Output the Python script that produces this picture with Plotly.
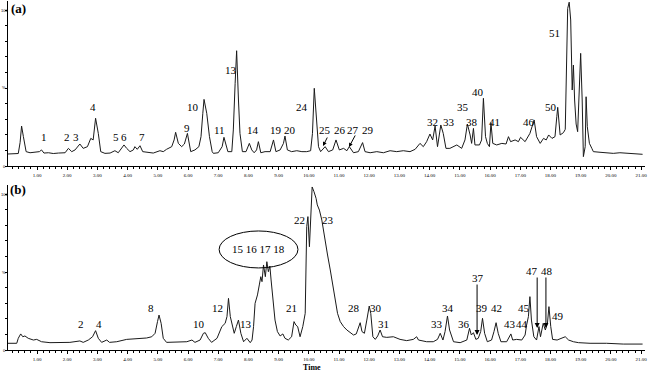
import plotly.graph_objects as go

# ---------------- Panel (a) chromatogram ----------------
time_a = [0.04, 0.22, 0.38, 0.44, 0.49, 0.55, 0.64, 0.77, 0.93, 1.08, 1.15, 1.23, 1.38, 1.54, 1.71, 1.93,
          2.04, 2.15, 2.26, 2.42, 2.53, 2.67, 2.78, 2.86, 2.94, 3.03, 3.11, 3.25, 3.42, 3.58, 3.69, 3.80,
          3.88, 3.97, 4.08, 4.19, 4.24, 4.32, 4.41, 4.50, 4.69, 4.85, 5.07, 5.18, 5.29, 5.46, 5.54, 5.59,
          5.68, 5.79, 5.88, 5.98, 6.09, 6.23, 6.36, 6.43, 6.49, 6.53, 6.62, 6.71, 6.80,
          6.84, 7.00, 7.13, 7.19, 7.26, 7.32, 7.45, 7.50, 7.56, 7.61, 7.67, 7.72, 7.80, 7.92, 8.03, 8.11,
          8.19, 8.27, 8.33, 8.41, 8.55, 8.72, 8.83, 8.91, 9.05, 9.16, 9.21, 9.29, 9.43, 9.60, 9.77, 9.93,
          10.06, 10.12, 10.18, 10.25, 10.32, 10.39, 10.54, 10.65, 10.79, 10.90, 11.01, 11.15, 11.26, 11.34,
          11.48, 11.64, 11.78, 11.86, 12.03, 12.25, 12.47, 12.69, 12.91, 13.13, 13.35, 13.52, 13.68, 13.79,
          13.90, 14.01, 14.10, 14.18, 14.26, 14.37, 14.45, 14.54,
          14.67, 14.90, 15.06, 15.17, 15.25, 15.34, 15.39, 15.45, 15.50, 15.65, 15.72, 15.78, 15.85, 15.91,
          15.98, 16.03, 16.09, 16.22, 16.39, 16.53, 16.61, 16.68, 16.83, 16.94, 17.01, 17.16, 17.32, 17.46,
          17.54, 17.66, 17.77, 17.86, 17.94, 18.05, 18.15, 18.21, 18.24, 18.32, 18.43, 18.49, 18.54, 18.57,
          18.62, 18.67, 18.72, 18.76, 18.80, 18.85, 18.90, 18.96, 19.00, 19.05, 19.09, 19.15, 19.18, 19.22,
          19.29, 19.37, 19.42, 19.64, 19.86, 20.08, 20.30, 20.53, 20.75, 20.97, 21.05]
inten_a = [7.7, 7.7, 8.0, 15.0, 25.6, 18.8, 9.2, 8.5, 8.7, 9.2, 10.3, 8.3, 8.5, 8.0, 8.3, 8.5,
           11.3, 9.2, 10.3, 14.1, 11.3, 12.4, 17.7, 16.7, 30.6, 20.9, 9.2, 8.1, 8.3, 9.8, 8.5, 11.3,
           13.5, 11.3, 9.2, 10.3, 12.4, 10.7, 13.0, 9.2, 8.5, 8.3, 9.8, 9.2, 10.7, 12.4, 16.7, 21.6,
           14.5, 12.4, 14.1, 20.9, 9.2, 10.3, 12.4, 18.8, 33.8, 42.7, 33.8, 18.8, 9.2,
           8.1, 8.5, 12.4, 18.4, 12.4, 9.2, 9.2, 23.1, 53.0, 73.9, 42.3, 20.9, 9.2, 9.2, 14.5, 10.3,
           8.5, 10.3, 15.6, 8.5, 9.2, 9.2, 16.7, 9.2, 10.3, 14.5, 19.2, 10.3, 9.2, 9.8, 9.2, 9.2,
           9.8, 20.9, 49.8, 29.5, 12.4, 9.2, 12.4, 9.2, 10.3, 16.7, 10.3, 11.3, 9.8, 12.4,
           8.5, 9.2, 15.0, 9.2, 8.5, 9.2, 8.5, 9.8, 9.2, 9.8, 9.2, 10.7, 14.5, 12.4,
           15.6, 20.5, 16.7, 25.6, 12.4, 26.3, 20.9, 11.3,
           11.3, 13.5, 11.3, 16.7, 26.9, 19.9, 14.5, 24.1, 13.5, 13.5, 16.7, 43.4, 18.8, 14.5,
           12.4, 27.8, 14.5, 13.5, 14.5, 14.1, 18.8, 15.6, 16.7, 15.6, 18.4, 15.6, 20.9, 29.5,
           18.8, 14.5, 17.7, 16.7, 19.9, 17.7, 18.8, 31.6, 37.6, 19.9, 21.4, 23.5, 76.5, 101.0,
           105.0, 93.6, 48.7, 64.7, 42.3, 26.9, 22.0, 53.0, 72.2, 42.3, 6.0, 12.4, 44.4, 25.2,
           14.5, 11.3, 9.2, 8.8, 8.5, 8.1, 8.5, 8.1, 8.1, 7.7, 7.5]

# ---------------- Panel (b) chromatogram ----------------
time_b = [0.04, 0.33, 0.38, 0.46, 0.53, 0.60, 0.71, 0.88, 0.99, 1.15, 1.43, 1.76, 2.09, 2.42, 2.53,
          2.70, 2.84, 2.94, 3.03, 3.14, 3.31, 3.40, 3.64, 3.97, 4.30, 4.63, 4.80, 4.91, 4.99, 5.04,
          5.11, 5.18, 5.29, 5.63, 5.96, 6.13, 6.23, 6.40, 6.51, 6.57, 6.67, 6.78, 6.89,
          6.96, 7.12, 7.23, 7.29, 7.34, 7.40, 7.46, 7.53, 7.60, 7.67, 7.75, 7.84, 7.95, 8.06, 8.12,
          8.17, 8.22, 8.30, 8.36, 8.41, 8.45, 8.50, 8.56, 8.61, 8.66, 8.71, 8.75, 8.81, 8.88, 8.96,
          9.05, 9.14, 9.21, 9.32, 9.43, 9.51, 9.57, 9.63, 9.71, 9.80, 9.88, 9.93, 9.97, 10.02, 10.06,
          10.11, 10.17, 10.24, 10.28, 10.35, 10.43, 10.48, 10.54, 10.62, 10.71, 10.80, 10.87, 10.95,
          11.04, 11.15, 11.26, 11.37, 11.48, 11.57, 11.64, 11.70, 11.76, 11.84, 11.92, 12.00, 12.05,
          12.12, 12.20, 12.28, 12.36, 12.44, 12.58, 12.80, 13.02, 13.24, 13.46, 13.57, 13.63, 13.90,
          14.12, 14.26, 14.35, 14.44, 14.51, 14.59, 14.66,
          14.79, 15.01, 15.23, 15.32, 15.38, 15.45, 15.53, 15.61, 15.69, 15.75, 15.82, 15.91, 16.05,
          16.13, 16.20, 16.27, 16.36, 16.55, 16.64, 16.69, 16.75, 16.88, 17.05, 17.16, 17.21, 17.27,
          17.32, 17.37, 17.45, 17.54, 17.62, 17.67, 17.76, 17.83, 17.90, 17.95, 18.01, 18.07, 18.22,
          18.38, 18.49, 18.60, 18.76, 18.93, 19.31, 19.86, 20.41, 21.05]
inten_b = [4.3, 4.3, 7.5, 10.3, 8.5, 9.0, 7.5, 6.4, 6.8, 5.3, 4.7, 4.7, 4.9, 5.8, 4.9,
           6.4, 8.5, 12.4, 7.5, 4.9, 6.4, 4.9, 5.3, 6.8, 7.3, 7.7, 8.5, 10.7, 18.2, 22.4,
           17.1, 7.5, 4.9, 4.9, 5.3, 6.4, 4.9, 6.4, 10.7, 11.1, 7.5, 4.9, 6.8,
           7.5, 15.0, 17.1, 21.4, 33.1, 21.4, 17.1, 10.7, 15.0, 19.2, 10.7, 5.3, 7.5, 4.7, 6.4,
           15.0, 29.9, 35.3, 41.7, 47.0, 43.8, 54.5, 47.0, 56.6, 50.2, 53.8, 44.9, 32.0, 19.2, 11.8,
           9.0, 10.3, 7.5, 6.4, 8.5, 18.2, 16.0, 15.0, 8.5, 15.0, 23.5, 79.1, 85.5, 66.2, 87.6,
           104.5, 101.5, 97.2, 93.0, 89.7, 83.3, 76.9, 68.4, 60.9, 51.3, 40.6, 32.0, 23.5,
           18.2, 15.0, 12.8, 11.1, 9.6, 10.3, 15.0, 17.5, 11.8, 10.7, 19.2, 28.2, 23.5,
           8.5, 6.8, 9.0, 12.8, 8.5, 8.1, 8.5, 6.8, 6.0, 6.8, 8.5, 6.4, 5.3,
           5.3, 6.8, 10.7, 6.4, 11.8, 21.8, 12.8,
           5.3, 4.7, 6.4, 13.9, 9.6, 11.1, 6.8, 7.5, 11.8, 20.3, 10.7, 5.3, 6.4,
           11.8, 17.5, 10.7, 5.3, 5.3, 8.5, 10.3, 6.4, 6.8, 6.4, 9.6, 16.0, 21.4,
           34.2, 19.2, 8.5, 6.4, 15.0, 8.5, 17.1, 12.8, 17.1, 27.8, 15.0, 6.8, 6.4,
           7.5, 8.5, 6.4, 5.3, 4.7, 4.3, 4.3, 3.8, 3.8]

# ---------------- Peak labels ----------------
labels_a = ["1", "2", "3", "4", "5", "6", "7", "9", "10", "11", "13", "14", "19", "20", "24",
            "25", "26", "27", "29", "32", "33", "35", "38", "40", "41", "46", "50", "51"]
label_a_t = [1.23, 1.99, 2.29, 2.85, 3.62, 3.88, 4.48, 5.97, 6.17, 7.03, 7.42, 8.15, 8.91, 9.38, 9.77,
             10.54, 11.03, 11.46, 11.96, 14.11, 14.64, 15.11, 15.40, 15.60, 16.16, 17.29, 18.02, 18.12]
label_a_i = [18.6, 18.6, 18.6, 37.8, 18.6, 18.6, 18.6, 24.4, 37.8, 23.1, 61.5, 23.1, 23.1, 23.1, 37.8,
             23.1, 23.1, 23.1, 23.1, 28.2, 28.2, 37.8, 28.2, 47.4, 28.2, 28.2, 37.8, 85.3]

labels_b = ["2", "4", "8", "10", "12", "13", "21", "22", "23", "28", "30", "31", "33", "34", "36",
            "37", "39", "42", "43", "44", "45", "47", "48", "49", "15 16 17 18"]
label_b_t = [2.46, 3.05, 4.77, 6.36, 6.96, 7.92, 9.41, 9.68, 10.64, 11.50, 12.23, 12.46, 14.24, 14.61, 15.14,
             15.60, 15.74, 16.20, 16.66, 17.06, 17.13, 17.39, 17.89, 18.25, 8.32]
label_b_i = [16.7, 16.7, 26.9, 16.7, 26.9, 16.7, 26.9, 83.3, 83.3, 26.9, 26.9, 16.7, 16.7, 26.9, 16.7,
             46.2, 26.9, 26.9, 16.7, 16.7, 26.9, 50.6, 50.6, 21.8, 64.7]

# arrows: (panel, tip time, tip intensity, dx px, dy px)
arrow_panel = ["a", "a", "b", "b", "b"]
arrow_t = [10.47, 11.33, 15.57, 17.56, 17.85]
arrow_i = [12.8, 12.2, 9.6, 14.1, 14.1]
arrow_dx = [5, 7, 0, 0, 0]
arrow_dy = [-10, -13, -52, -52, -52]

tick_vals = list(range(1, 22))
tick_text = ["%.2f" % v for v in tick_vals]

W, H = 650, 373
X_RANGE = [0.04, 21.13]
X_DOMAIN = [8 / W, 645 / W]
Y_RANGE = [0, 105.77]
DOM_A = [1 - 166 / H, 1 - 1 / H]
DOM_B = [1 - 350 / H, 1 - 185 / H]

line_style = dict(color="#1a1a1a", width=1)
fig = go.Figure()
fig.add_trace(go.Scatter(x=time_a, y=inten_a, mode="lines", line=line_style, xaxis="x", yaxis="y",
                         showlegend=False, hoverinfo="skip"))
fig.add_trace(go.Scatter(x=time_b, y=inten_b, mode="lines", line=line_style, xaxis="x2", yaxis="y2",
                         showlegend=False, hoverinfo="skip"))

xcommon = dict(range=X_RANGE, domain=X_DOMAIN, showgrid=False, zeroline=False, showline=True,
               linecolor="black", linewidth=1, ticks="outside", ticklen=3, tickcolor="black",
               tickvals=tick_vals, ticktext=tick_text, automargin=False, ticklabelstandoff=1,
               tickfont=dict(family="Liberation Serif", size=5, color="black"),
               minor=dict(dtick=0.2, ticks="outside", ticklen=2, tickcolor="black", showgrid=False))
ycommon = dict(range=Y_RANGE, showgrid=False, zeroline=False, showline=True, linecolor="black",
               linewidth=1, ticks="outside", ticklen=2, tickcolor="black", automargin=False,
               tickvals=list(range(0, 101, 10)), showticklabels=False)

fig.update_layout(
    width=W, height=H, margin=dict(l=0, r=0, t=0, b=0, autoexpand=False),
    paper_bgcolor="white", plot_bgcolor="white",
    xaxis=dict(anchor="y", **xcommon),
    yaxis=dict(anchor="x", domain=DOM_A, **ycommon),
    xaxis2=dict(anchor="y2", **xcommon),
    yaxis2=dict(anchor="x2", domain=DOM_B, **ycommon),
)

ann = []
lab_font = dict(family="Liberation Serif", size=11, color="black")
for txt, t, i in zip(labels_a, label_a_t, label_a_i):
    ann.append(dict(x=t, y=i, xref="x", yref="y", text=txt, showarrow=False, font=lab_font,
                    xanchor="center", yanchor="middle"))
for txt, t, i in zip(labels_b, label_b_t, label_b_i):
    ann.append(dict(x=t, y=i, xref="x2", yref="y2", text=txt, showarrow=False, font=lab_font,
                    xanchor="center", yanchor="middle"))
for p, t, i, dx, dy in zip(arrow_panel, arrow_t, arrow_i, arrow_dx, arrow_dy):
    xr, yr = ("x", "y") if p == "a" else ("x2", "y2")
    ann.append(dict(x=t, y=i, xref=xr, yref=yr, text="", showarrow=True, ax=dx, ay=dy,
                    arrowhead=2, arrowsize=1.0 if p == "b" else 0.8, arrowwidth=1, arrowcolor="black"))

panel_font = dict(family="Liberation Serif", size=13, color="black")
ann.append(dict(x=18 / W, y=1 - 8 / H, xref="paper", yref="paper", text="<b>(a)</b>", showarrow=False,
                font=panel_font, xanchor="center", yanchor="middle"))
ann.append(dict(x=18 / W, y=1 - 189 / H, xref="paper", yref="paper", text="<b>(b)</b>", showarrow=False,
                font=panel_font, xanchor="center", yanchor="middle"))
ann.append(dict(x=312 / W, y=1 - 367 / H, xref="paper", yref="paper", text="<b>Time</b>", showarrow=False,
                font=dict(family="Liberation Serif", size=8, color="black"), xanchor="center", yanchor="middle"))

small = dict(family="Liberation Sans", size=4, color="black")
for ytop, yzero in [(10, 166), (194, 350)]:
    ann.append(dict(x=4 / W, y=1 - ytop / H, xref="paper", yref="paper", text="100", showarrow=False,
                    font=small, xanchor="center", yanchor="middle"))
    ann.append(dict(x=4 / W, y=1 - (ytop + yzero) / 2 / H, xref="paper", yref="paper", text="%",
                    showarrow=False, font=small, xanchor="center", yanchor="middle"))
    ann.append(dict(x=4 / W, y=1 - yzero / H, xref="paper", yref="paper", text="0", showarrow=False,
                    font=small, xanchor="center", yanchor="middle"))

fig.update_layout(annotations=ann)

# ellipse around 15-18
fig.add_shape(type="circle", xref="x2", yref="y2", x0=7.03, x1=9.64, y0=52.6, y1=76.3,
              line=dict(color="black", width=1))

fig.write_html("out.html", config={"displayModeBar": False},
               post_script="document.body.style.margin='0';document.body.style.overflow='hidden';")
